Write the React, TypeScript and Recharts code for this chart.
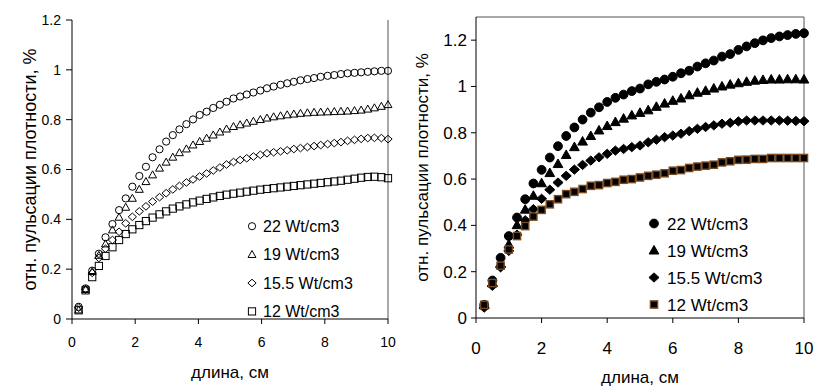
import React from "react"
import {
  ScatterChart,
  Scatter,
  XAxis,
  YAxis,
  ReferenceLine,
} from "recharts"

// left panel: hollow markers
const xLeft = [
  0.21, 0.43, 0.64, 0.85, 1.06, 1.28, 1.49, 1.7, 1.91, 2.13,
  2.34, 2.55, 2.77, 2.98, 3.19, 3.4, 3.62, 3.83, 4.04, 4.26,
  4.47, 4.68, 4.89, 5.11, 5.32, 5.53, 5.74, 5.96, 6.17, 6.38,
  6.6, 6.81, 7.02, 7.23, 7.45, 7.66, 7.87, 8.09, 8.3, 8.51,
  8.72, 8.94, 9.15, 9.36, 9.57, 9.79, 10.0,
]
const left22 = [
  0.049, 0.123, 0.194, 0.262, 0.328, 0.381, 0.437, 0.484, 0.531, 0.574,
  0.611, 0.649, 0.681, 0.712, 0.738, 0.761, 0.782, 0.801, 0.819, 0.832,
  0.847, 0.86, 0.872, 0.885, 0.893, 0.901, 0.909, 0.917, 0.926, 0.933,
  0.94, 0.946, 0.952, 0.958, 0.963, 0.967, 0.972, 0.976, 0.979, 0.983,
  0.986, 0.988, 0.99, 0.992, 0.994, 0.996, 0.996,
]
const left19 = [
  0.036, 0.118, 0.19, 0.255, 0.301, 0.357, 0.408, 0.448, 0.484, 0.52,
  0.551, 0.578, 0.605, 0.629, 0.649, 0.667, 0.682, 0.698, 0.712, 0.725,
  0.738, 0.75, 0.762, 0.772, 0.779, 0.786, 0.793, 0.8, 0.806, 0.811,
  0.815, 0.819, 0.822, 0.825, 0.827, 0.829, 0.83, 0.831, 0.832, 0.833,
  0.834, 0.836, 0.838, 0.842, 0.847, 0.853, 0.86,
]
const left155 = [
  0.045, 0.118, 0.185, 0.245, 0.282, 0.317, 0.35, 0.384, 0.41, 0.432,
  0.452, 0.471, 0.489, 0.505, 0.52, 0.534, 0.548, 0.56, 0.572, 0.584,
  0.596, 0.608, 0.62, 0.63, 0.638, 0.645, 0.652, 0.659, 0.665, 0.669,
  0.673, 0.677, 0.682, 0.686, 0.69, 0.694, 0.698, 0.702, 0.706, 0.71,
  0.715, 0.719, 0.723, 0.726, 0.727, 0.726, 0.722,
]
const left12 = [
  0.035, 0.115, 0.168, 0.213, 0.253, 0.288, 0.317, 0.341, 0.36, 0.377,
  0.393, 0.407, 0.42, 0.432, 0.443, 0.452, 0.46, 0.468, 0.475, 0.482,
  0.488, 0.494, 0.499, 0.503, 0.507, 0.511, 0.515, 0.519, 0.522, 0.525,
  0.528, 0.531, 0.534, 0.537, 0.54, 0.543, 0.546, 0.549, 0.552, 0.555,
  0.559, 0.563, 0.567, 0.57, 0.571, 0.569, 0.565,
]

// right panel: filled markers
const xRight = [
  0.25, 0.5, 0.75, 1.0, 1.25, 1.5, 1.75, 2.0, 2.25, 2.5,
  2.75, 3.0, 3.25, 3.5, 3.75, 4.0, 4.25, 4.5, 4.75, 5.0,
  5.25, 5.5, 5.75, 6.0, 6.25, 6.5, 6.75, 7.0, 7.25, 7.5,
  7.75, 8.0, 8.25, 8.5, 8.75, 9.0, 9.25, 9.5, 9.75, 10.0,
]
const right22 = [
  0.057, 0.162, 0.26, 0.354, 0.434, 0.513, 0.581, 0.64, 0.693, 0.742,
  0.786, 0.823, 0.857, 0.887, 0.91, 0.933, 0.951, 0.965, 0.98, 0.991,
  1.009, 1.02, 1.03, 1.042, 1.057, 1.068, 1.086, 1.1, 1.112, 1.129,
  1.14, 1.158, 1.173, 1.187, 1.199, 1.209, 1.216, 1.222, 1.227, 1.23,
]
const right19 = [
  0.055, 0.15, 0.235, 0.317, 0.401, 0.468, 0.528, 0.582, 0.626, 0.665,
  0.704, 0.738, 0.762, 0.786, 0.81, 0.829, 0.846, 0.861, 0.875, 0.886,
  0.897, 0.912, 0.926, 0.938, 0.948, 0.962, 0.973, 0.981, 0.991, 1.0,
  1.008, 1.014, 1.02, 1.025, 1.028, 1.03, 1.03, 1.031, 1.031, 1.03,
]
const right155 = [
  0.045, 0.139, 0.219, 0.29, 0.36, 0.422, 0.47, 0.515, 0.554, 0.585,
  0.614, 0.641, 0.661, 0.68, 0.694, 0.709, 0.723, 0.73, 0.738, 0.745,
  0.759, 0.77, 0.781, 0.788, 0.796, 0.807, 0.817, 0.825, 0.832, 0.839,
  0.843, 0.849, 0.853, 0.853, 0.853, 0.853, 0.853, 0.852, 0.851, 0.85,
]
const right12 = [
  0.057, 0.151, 0.226, 0.296, 0.354, 0.397, 0.438, 0.467, 0.491, 0.513,
  0.535, 0.545, 0.557, 0.571, 0.574, 0.583, 0.588, 0.597, 0.6, 0.607,
  0.614, 0.619, 0.625, 0.636, 0.639, 0.648, 0.654, 0.658, 0.662, 0.672,
  0.677, 0.683, 0.684, 0.687, 0.687, 0.691, 0.691, 0.691, 0.691, 0.691,
]

const seriesNames = ["22 Wt/cm3", "19 Wt/cm3", "15.5 Wt/cm3", "12 Wt/cm3"]
const xTicks = [0, 2, 4, 6, 8, 10]
const yTicks = [0, 0.2, 0.4, 0.6, 0.8, 1, 1.2]
const yTitle = "отн. пульсации плотности, %"
const xTitle = "длина, см"

const FONT = "'Liberation Sans', Arial, sans-serif"
const BROWN = "#7a4a1e"

const toPoints = (xs: number[], ys: number[]) => xs.map((x, i) => ({ x, y: ys[i] }))

type Kind = "circle" | "triangle" | "diamond" | "square"

function Marker({ kind, cx, cy, filled, big }: { kind: Kind; cx: number; cy: number; filled: boolean; big: boolean }) {
  const s = big ? 4.4 : 3.6
  const fill = filled ? "#000" : "none"
  const common = { stroke: "#000", strokeWidth: 1, fill }
  if (kind === "circle") return <circle cx={cx} cy={cy} r={s} {...common} />
  if (kind === "triangle")
    return <polygon points={`${cx},${cy - s * 1.15} ${cx + s * 1.1},${cy + s * 0.8} ${cx - s * 1.1},${cy + s * 0.8}`} {...common} />
  if (kind === "diamond")
    return <polygon points={`${cx},${cy - s * 1.05} ${cx + s * 1.15},${cy} ${cx},${cy + s * 1.05} ${cx - s * 1.15},${cy}`} {...common} />
  if (filled)
    return <rect x={cx - 3.6} y={cy - 3.6} width={7.2} height={7.2} fill="#000" stroke={BROWN} strokeWidth={1.4} />
  return <rect x={cx - s} y={cy - s} width={s * 2} height={s * 2} {...common} />
}

const shapeFor = (kind: Kind, filled: boolean) => (props: any) =>
  <Marker kind={kind} cx={props.cx} cy={props.cy} filled={filled} big={filled} />

const kinds: Kind[] = ["circle", "triangle", "diamond", "square"]

function LegendBox({ left, top, gap, fontSize, filled }: { left: number; top: number; gap: number; fontSize: number; filled: boolean }) {
  return (
    <svg style={{ position: "absolute", left, top }} width={150} height={gap * 4}>
      {seriesNames.map((name, i) => (
        <g key={name}>
          <Marker kind={kinds[i]} cx={7} cy={gap / 2 + i * gap} filled={filled} big={filled} />
          <text x={filled ? 20 : 18} y={gap / 2 + i * gap} dy="0.36em" fontSize={fontSize} fontFamily={FONT} fill="#000">
            {name}
          </text>
        </g>
      ))}
    </svg>
  )
}

export default function App() {
  const lData = [left22, left19, left155, left12].map((ys) => toPoints(xLeft, ys))
  const rData = [right22, right19, right155, right12].map((ys) => toPoints(xRight, ys))
  const fmt = (v: number) => String(v)

  return (
    <div style={{ position: "absolute", left: 0, top: 0, width: 814, height: 388, background: "#fff", fontFamily: FONT }}>
      <div style={{ position: "absolute", left: 0, top: 0 }}>
        <ScatterChart width={400} height={388} margin={{ top: 20, right: 12, left: 0, bottom: 0 }}>
          <XAxis
            type="number"
            dataKey="x"
            domain={[0, 10]}
            ticks={xTicks}
            height={69}
            tickSize={5}
            tickMargin={13}
            stroke="#000"
            tick={{ fill: "#000", fontSize: 14, fontFamily: FONT }}
            label={{ value: xTitle, position: "insideBottom", offset: 10, fill: "#000", fontSize: 17, fontFamily: FONT }}
          />
          <YAxis
            type="number"
            dataKey="y"
            domain={[0, 1.2]}
            ticks={yTicks}
            tickFormatter={fmt}
            width={72}
            tickSize={6}
            tickMargin={5}
            stroke="#000"
            tick={{ fill: "#000", fontSize: 14, fontFamily: FONT }}
            label={{ value: yTitle, angle: -90, position: "insideLeft", offset: 30, fill: "#000", fontSize: 18, fontFamily: FONT, style: { textAnchor: "middle" } }}
          />
          <ReferenceLine x={10} stroke="#555" />
          {lData.map((d, i) => (
            <Scatter key={i} data={d} shape={shapeFor(kinds[i], false)} isAnimationActive={false} />
          ))}
        </ScatterChart>
      </div>
      <div style={{ position: "absolute", left: 400, top: 0 }}>
        <ScatterChart width={414} height={388} margin={{ top: 17, right: 10, left: 0, bottom: 0 }}>
          <XAxis
            type="number"
            dataKey="x"
            domain={[0, 10]}
            ticks={xTicks}
            height={70}
            tickSize={5}
            tickMargin={19}
            stroke="#000"
            tick={{ fill: "#000", fontSize: 17, fontFamily: FONT }}
            label={{ value: xTitle, position: "insideBottom", offset: 5, fill: "#000", fontSize: 17, fontFamily: FONT }}
          />
          <YAxis
            type="number"
            dataKey="y"
            domain={[0, 1.3]}
            ticks={yTicks}
            tickFormatter={fmt}
            width={76}
            tickSize={5}
            tickMargin={4}
            stroke="#000"
            tick={{ fill: "#000", fontSize: 17, fontFamily: FONT }}
            label={{ value: yTitle, angle: -90, position: "insideLeft", offset: 22, fill: "#000", fontSize: 17, fontFamily: FONT, style: { textAnchor: "middle" } }}
          />
          <ReferenceLine x={10} stroke="#555" />
          <ReferenceLine y={1.3} stroke="#555" />
          {rData.map((d, i) => (
            <Scatter key={i} data={d} shape={shapeFor(kinds[i], true)} isAnimationActive={false} />
          ))}
        </ScatterChart>
      </div>
      <LegendBox left={245} top={212} gap={28.4} fontSize={16} filled={false} />
      <LegendBox left={647} top={209.5} gap={27} fontSize={17} filled={true} />
    </div>
  )
}
